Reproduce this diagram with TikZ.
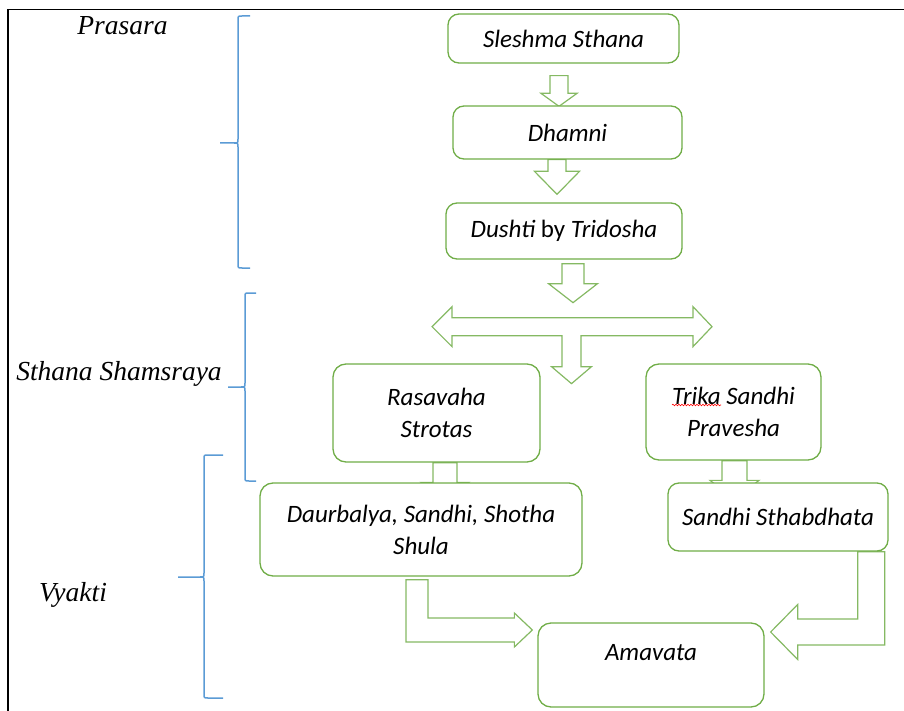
\documentclass[tikz,border=0pt]{standalone}
\usepackage{fontspec}
\setmainfont{Carlito}
\newfontfamily\stagefont{Liberation Serif}
\usepackage{tikz}
\usetikzlibrary{calc,backgrounds,decorations.pathmorphing}
\definecolor{boxgreen}{RGB}{112,173,71}
\definecolor{braceblue}{RGB}{91,155,213}

\tikzset{
  stepbox/.style={draw=boxgreen,line width=1.3pt,fill=white,rounded corners=11pt,
    align=center,inner sep=0pt,font=\itshape\fontsize{25}{32}\selectfont},
  blockarrow/.style={draw=boxgreen!85,line width=1.2pt,fill=white,line join=miter},
  stagebrace/.style={draw=braceblue,line width=1.5pt},
  stagelabel/.style={font=\stagefont\itshape\fontsize{27.5}{33}\selectfont,anchor=base},
  spellmark/.style={red,line width=0.6pt,decorate,
    decoration={snake,amplitude=0.8pt,segment length=3pt}}
}

% down block arrow: top, tip, shaft half, head half, head length
\newcommand\downblock[5]{%
  \draw[blockarrow] let \p1=(#1), \p2=(#2) in
    (\x1-#3pt,\y1) -- (\x1+#3pt,\y1) -- (\x1+#3pt,\y2+#5pt) -- (\x1+#4pt,\y2+#5pt)
    -- (\x1,\y2) -- (\x1-#4pt,\y2+#5pt) -- (\x1-#3pt,\y2+#5pt) -- cycle;}

\begin{document}
\begin{tikzpicture}[x=1pt,y=-1pt]
  \useasboundingbox (0,0) rectangle (904,711);
  % frame
  \draw[line width=1.2pt] (8,711) -- (8,9.5) -- (904,9.5);

  % stages
  \node[stagelabel] (prasara) at (122.5,35) {Prasara};
  \node[stagelabel] (sthana) at (119,380) {Sthana Shamsraya};
  \node[stagelabel] (vyakti) at (73,601.5) {Vyakti};
  \foreach \bx/\btop/\bmid/\bbot/\btick/\bhook in
      {238/16/143/268/220/250, 245/293/387/481/228/256, 204/455/577/698/178/223}
    \draw[stagebrace] (\bhook,\btop) -- (\bx+4,\btop) .. controls (\bx,\btop) .. (\bx,\btop+4)
      -- (\bx,\bmid-4) .. controls (\bx,\bmid) .. (\bx-4,\bmid) -- (\btick,\bmid)
      (\bx-4,\bmid) .. controls (\bx,\bmid) .. (\bx,\bmid+4)
      -- (\bx,\bbot-4) .. controls (\bx,\bbot) .. (\bx+4,\bbot) -- (\bhook,\bbot);

  % boxes
  \node[stepbox,minimum width=231pt,minimum height=49pt] (sle) at (563.5,38.5) {Sleshma Sthana};
  \node[stepbox,minimum width=229pt,minimum height=53pt] (dha) at (567.5,132.5) {Dhamni};
  \node[stepbox,minimum width=236pt,minimum height=56pt] (dus) at (564,231) {Dushti {\upshape by} Tridosha};
  \node[stepbox,minimum width=207pt,minimum height=98pt,rounded corners=13pt] (ras) at (436.5,413) {Rasavaha\\Strotas};
  \node[stepbox,minimum width=175pt,minimum height=96pt,rounded corners=13pt] (tri) at (733.5,412) {Trika Sandhi\\Pravesha};
  \node[stepbox,minimum width=322pt,minimum height=93pt,rounded corners=13pt] (dau) at (421,529.5) {Daurbalya, Sandhi, Shotha\\Shula};
  \node[stepbox,minimum width=220pt,minimum height=68pt] (sst) at (778,517) {Sandhi Sthabdhata};
  \node[stepbox,minimum width=226pt,minimum height=84pt,rounded corners=13pt] (ama) at (651,665)
    {\raisebox{12pt}[\height][\depth]{Amavata}};
  \draw[spellmark] ($(tri.center)+(-61.5,-7)$) -- ++(49,0);

  \coordinate (fork) at ($(dus.south)+(7.5,67)$);

  \begin{pgfonlayer}{background}
    \downblock{$(sle.south)+(-4.5,12)$}{$(dha.north)+(-8.5,1)$}{9}{18}{13}
    \downblock{$(dha.south)+(-10.5,0)$}{$(dus.north)+(-7,-8)$}{9}{22.5}{23}
    \downblock{$(dus.south)+(9,4)$}{$(fork)+(0,-24)$}{11}{24.5}{19}
    \downblock{$(ras.south)+(8.5,0)$}{$(dau.north)+(0,20)$}{12}{24}{20}
    \downblock{$(tri.south)+(1,0)$}{$(sst.north)+(0,17)$}{12.5}{24.5}{19}
    % split to both sides
    \draw[blockarrow] let \p1=(fork) in
      (\x1-139.5pt,\y1) -- (\x1-119.5pt,\y1+20pt) -- (\x1-119.5pt,\y1+9pt)
      -- (\x1+121.5pt,\y1+9pt) -- (\x1+121.5pt,\y1+20pt) -- (\x1+140.5pt,\y1)
      -- (\x1+121.5pt,\y1-20pt) -- (\x1+121.5pt,\y1-9pt) -- (\x1+9.5pt,\y1-9pt)
      -- (\x1+9.5pt,\y1-40pt) -- (\x1+20pt,\y1-40pt) -- (\x1,\y1-57pt)
      -- (\x1-20pt,\y1-40pt) -- (\x1-9.5pt,\y1-40pt) -- (\x1-9.5pt,\y1-9pt)
      -- (\x1-119.5pt,\y1-9pt) -- (\x1-119.5pt,\y1-20pt) -- cycle;
    % bent arrows into Amavata
    \draw[blockarrow] let \p1=($(dau.south)+(-4,3)$), \p2=($(ama.west)+(-5,-35)$) in
      (\x1-11pt,\y1) -- (\x1+11pt,\y1) -- (\x1+11pt,\y2+12pt) -- (\x2-18pt,\y2+12pt)
      -- (\x2-18pt,\y2+17pt) -- (\x2,\y2) -- (\x2-18pt,\y2-17pt) -- (\x2-18pt,\y2-12pt)
      -- (\x1-11pt,\y2-12pt) -- cycle;
    \draw[blockarrow] let \p1=($(sst.south east)+(-17.5,0)$), \p2=($(ama.east)+(6,-33)$) in
      (\x1+13.5pt,\y1) -- (\x1-13.5pt,\y1) -- (\x1-13.5pt,\y2+13pt) -- (\x2+27pt,\y2+13pt)
      -- (\x2+27pt,\y2+27.5pt) -- (\x2,\y2) -- (\x2+27pt,\y2-27.5pt) -- (\x2+27pt,\y2-13pt)
      -- (\x1+13.5pt,\y2-13pt) -- cycle;
  \end{pgfonlayer}
\end{tikzpicture}
\end{document}
